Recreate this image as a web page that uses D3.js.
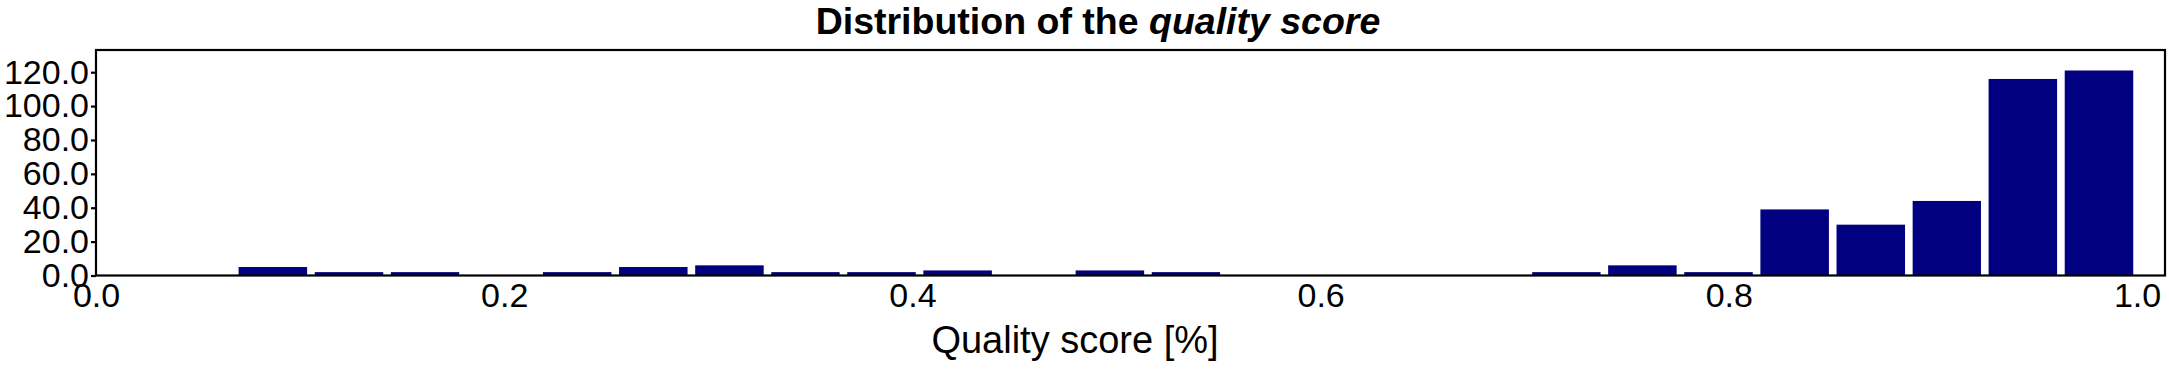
<!DOCTYPE html>
<html>
<head>
<meta charset="utf-8">
<script src="https://cdn.jsdelivr.net/npm/d3@7/dist/d3.min.js"></script>
<style>
  html, body { margin: 0; padding: 0; background: #ffffff; }
  svg { display: block; }
  text { font-family: "Liberation Sans", Arial, Helvetica, sans-serif; fill: #000; }
</style>
</head>
<body>
<svg id="chart" width="2169" height="375"></svg>
<script>
// ---- data ----
const binEdges = [0.0680, 0.1053, 0.1426, 0.1798, 0.2171, 0.2544, 0.2917, 0.3290, 0.3662,
  0.4035, 0.4408, 0.4781, 0.5154, 0.5526, 0.5899, 0.6272, 0.6645, 0.7018, 0.7390,
  0.7763, 0.8136, 0.8509, 0.8882, 0.9254, 0.9627, 1.0000];
const counts = [5, 2, 2, 0, 2, 5, 6, 2, 2, 3, 0, 3, 2, 0, 0, 0, 0, 2, 6, 2, 39, 30, 44, 116, 121];
const xTicks = [0.0, 0.2, 0.4, 0.6, 0.8, 1.0];
const yTicks = [0, 20, 40, 60, 80, 100, 120];
const titleMain = "Distribution of the ";
const titleItalic = "quality score";
const xLabel = "Quality score [%]";

// ---- layout ----
const plot = { left: 96, right: 2165, top: 50, bottom: 275.5 };
const svg = d3.select("#chart");

const x = d3.scaleLinear().domain([0, 1.0137]).range([plot.left, plot.right]);
const y = d3.scaleLinear().domain([0, d3.max(counts) * 1.1]).range([plot.bottom, plot.top]);

const bins = counts.map((c, i) => ({ lo: binEdges[i], hi: binEdges[i + 1], c }));
const rwidth = 0.9;

svg.append("g").selectAll("rect").data(bins.filter(d => d.c > 0)).enter().append("rect")
  .attr("x", d => { const w = x(d.hi) - x(d.lo); return x(d.lo) + w * (1 - rwidth) / 2; })
  .attr("width", d => (x(d.hi) - x(d.lo)) * rwidth)
  .attr("y", d => y(d.c))
  .attr("height", d => y(0) - y(d.c))
  .attr("fill", "#000080");

// frame
svg.append("rect")
  .attr("x", plot.left).attr("y", plot.top)
  .attr("width", plot.right - plot.left).attr("height", plot.bottom - plot.top)
  .attr("fill", "none").attr("stroke", "#000").attr("stroke-width", 2.2);

// y axis
const yAxis = d3.axisLeft(y).tickValues(yTicks).tickFormat(d3.format(".1f")).tickSize(5).tickPadding(2);
const gy = svg.append("g").attr("transform", `translate(${plot.left},0)`).call(yAxis);
gy.select(".domain").remove();
gy.selectAll(".tick line").attr("stroke", "#000").attr("stroke-width", 2.2);
gy.selectAll(".tick text").attr("font-size", 34).attr("font-family", "Liberation Sans");

// x axis
const xAxis = d3.axisBottom(x).tickValues(xTicks).tickFormat(d3.format(".1f")).tickSize(0);
const gx = svg.append("g").attr("transform", `translate(0,${plot.bottom})`).call(xAxis);
gx.select(".domain").remove();
gx.selectAll(".tick text").attr("font-size", 34).attr("font-family", "Liberation Sans")
  .attr("dy", null).attr("y", 31.5);

// title
const t = svg.append("text").attr("x", 1098).attr("y", 34).attr("text-anchor", "middle")
  .attr("font-size", 37.5).attr("font-weight", "bold");
t.append("tspan").text(titleMain);
t.append("tspan").attr("font-style", "italic").text(titleItalic);

// x label
svg.append("text").attr("x", 1075).attr("y", 353).attr("text-anchor", "middle")
  .attr("font-size", 38).text(xLabel);
</script>
</body>
</html>
